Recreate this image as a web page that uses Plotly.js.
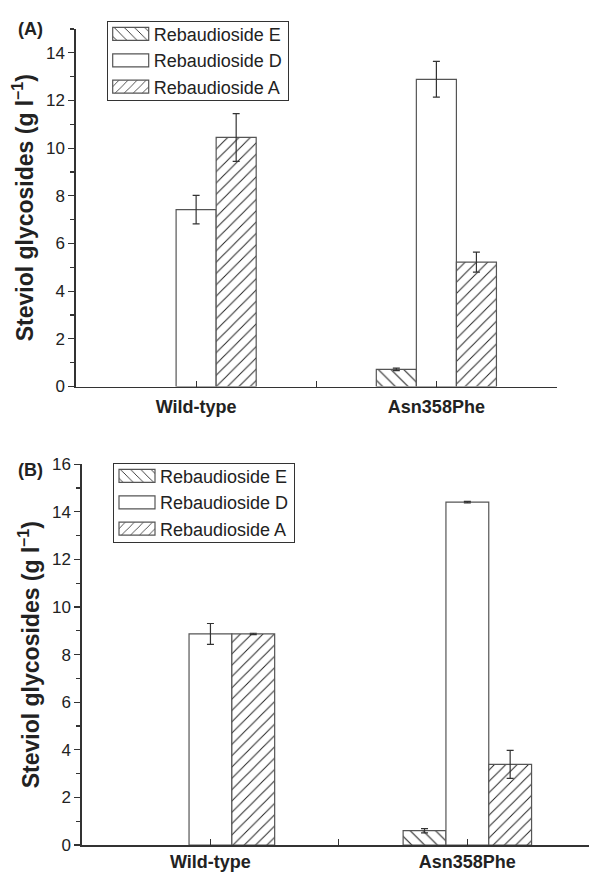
<!DOCTYPE html>
<html>
<head>
<meta charset="utf-8">
<script src="https://cdn.plot.ly/plotly-3.0.1.min.js"></script>
<style>html,body{margin:0;padding:0;background:#fff;}#chart{width:589px;height:872px;}</style>
</head>
<body>
<div id="chart"></div>
<script>
// ---- data ----
const categories = ['Wild-type', 'Asn358Phe'];
const seriesNames = ['Rebaudioside E', 'Rebaudioside D', 'Rebaudioside A'];

const panelA_E = [null, 0.72];
const panelA_E_err = [0, 0.05];
const panelA_D = [7.42, 12.89];
const panelA_D_err = [0.60, 0.75];
const panelA_A = [10.45, 5.22];
const panelA_A_err = [1.00, 0.42];

const panelB_E = [null, 0.60];
const panelB_E_err = [0, 0.09];
const panelB_D = [8.87, 14.41];
const panelB_D_err = [0.44, 0.03];
const panelB_A = [8.87, 3.39];
const panelB_A_err = [0.03, 0.59];

const yTitle = 'Steviol glycosides (g l<sup>–1</sup>)';
const panelLabels = ['(A)', '(B)'];

// ---- build ----
const xPos = categories.map((c, i) => i + 1);
const midTicks = [0.5, 1.5, 2.5];
const FONT = 'Liberation Sans, Arial, sans-serif';
const patterns = [{shape: '\\', size: 9}, {shape: '', size: 8}, {shape: '/', size: 8}];

function makeTrace(name, idx, y, err, xa, ya, legend) {
  const p = patterns[idx];
  return {
    type: 'bar', name: name, x: xPos, y: y,
    xaxis: xa, yaxis: ya, legend: legend, showlegend: true,
    marker: {
      color: '#ffffff',
      line: {color: '#555555', width: 1.2},
      pattern: {shape: p.shape, size: p.size, solidity: 0.12, fgcolor: '#222222', bgcolor: '#ffffff', fillmode: 'replace'}
    },
    error_y: {type: 'data', array: err, visible: true, color: '#333333', thickness: 1.2, width: 3.5}
  };
}

const data = [
  makeTrace(seriesNames[0], 0, panelA_E, panelA_E_err, 'x', 'y', 'legend'),
  makeTrace(seriesNames[1], 1, panelA_D, panelA_D_err, 'x', 'y', 'legend'),
  makeTrace(seriesNames[2], 2, panelA_A, panelA_A_err, 'x', 'y', 'legend'),
  makeTrace(seriesNames[0], 0, panelB_E, panelB_E_err, 'x2', 'y2', 'legend2'),
  makeTrace(seriesNames[1], 1, panelB_D, panelB_D_err, 'x2', 'y2', 'legend2'),
  makeTrace(seriesNames[2], 2, panelB_A, panelB_A_err, 'x2', 'y2', 'legend2')
];

const W = 589, H = 872;
function px(x) { return x / W; }
function py(y) { return (H - y) / H; }

function xAxis(domain, range, anchor, standoff) {
  return {
    domain: domain, range: range, anchor: anchor, type: 'linear',
    tickmode: 'array', tickvals: xPos, ticktext: categories,
    ticks: 'inside', ticklen: 6, tickwidth: 1.2, tickcolor: '#333',
    minor: {tickmode: 'array', tickvals: midTicks, ticks: 'inside', ticklen: 6, tickwidth: 1.2, tickcolor: '#333'},
    showline: true, linecolor: '#333', linewidth: 1.6,
    showgrid: false, zeroline: false,
    ticklabelstandoff: standoff,
    tickfont: {family: FONT, size: 18, color: '#222', weight: 'bold'}
  };
}
function yAxis(domain, range, anchor) {
  return {
    domain: domain, range: range, anchor: anchor,
    dtick: 2, tick0: 0,
    ticks: 'outside', ticklen: 6, tickwidth: 1.2, tickcolor: '#333',
    minor: {dtick: 1, ticks: 'outside', ticklen: 4, tickwidth: 1.2, tickcolor: '#333'},
    showline: true, linecolor: '#333', linewidth: 1.6,
    showgrid: false, zeroline: false,
    tickfont: {family: FONT, size: 17, color: '#222'},
    title: {text: yTitle, font: {family: FONT, size: 23, color: '#222', weight: 'bold'}, standoff: 6}
  };
}

const legendStyle = (x, y) => ({
  x: x, y: y, xanchor: 'left', yanchor: 'top', xref: 'paper', yref: 'paper',
  bgcolor: '#ffffff', bordercolor: '#333', borderwidth: 1,
  font: {family: FONT, size: 18, color: '#222'},
  itemwidth: 36, traceorder: 'normal', tracegroupgap: 0
});

const layout = {
  width: W, height: H,
  margin: {l: 0, r: 0, t: 0, b: 0},
  paper_bgcolor: '#ffffff', plot_bgcolor: '#ffffff',
  barmode: 'group', bargap: 0.5, bargroupgap: 0,
  xaxis: xAxis([px(76), px(556.5)], [0.5, 2.5], 'y', 3),
  yaxis: yAxis([py(386.5), py(29)], [0, 15], 'x'),
  xaxis2: xAxis([px(82), 1], [0.5, 1 + (589 - 210.3) / 257], 'y2', 0),
  yaxis2: yAxis([py(845), py(464.3)], [0, 16], 'x2'),
  legend: legendStyle(px(106.7), py(20.7)),
  legend2: legendStyle(px(113), py(462.7)),
  annotations: [
    {text: panelLabels[0], xref: 'paper', yref: 'paper', x: px(16), y: py(29), xanchor: 'left', yanchor: 'middle', showarrow: false,
     font: {family: FONT, size: 18, color: '#222', weight: 'bold'}},
    {text: panelLabels[1], xref: 'paper', yref: 'paper', x: px(16), y: py(469.5), xanchor: 'left', yanchor: 'middle', showarrow: false,
     font: {family: FONT, size: 18, color: '#222', weight: 'bold'}}
  ]
};

Plotly.newPlot('chart', data, layout, {staticPlot: true, displayModeBar: false}).then(function () {
  // widen legend swatches to match the reference's rectangular keys
  document.querySelectorAll('g.legendpoints path').forEach(function (p) {
    p.setAttribute('d', 'M-18,6.5H18V-6.5H-18Z');
  });
  // tighten legend box padding to match the reference
  document.querySelectorAll('.infolayer > g').forEach(function (g) {
    const cls = g.getAttribute('class') || '';
    if (!/^legend/.test(cls)) return;
    const bg = g.querySelector('rect.bg');
    const sb = g.querySelector('g.scrollbox');
    if (bg) {
      const h = parseFloat(bg.getAttribute('height'));
      bg.setAttribute('height', h - 12);
    }
    if (sb) {
      const t = sb.getAttribute('transform') || '';
      sb.setAttribute('transform', t + ' translate(0,-6)');
    }
  });
});
</script>
</body>
</html>
